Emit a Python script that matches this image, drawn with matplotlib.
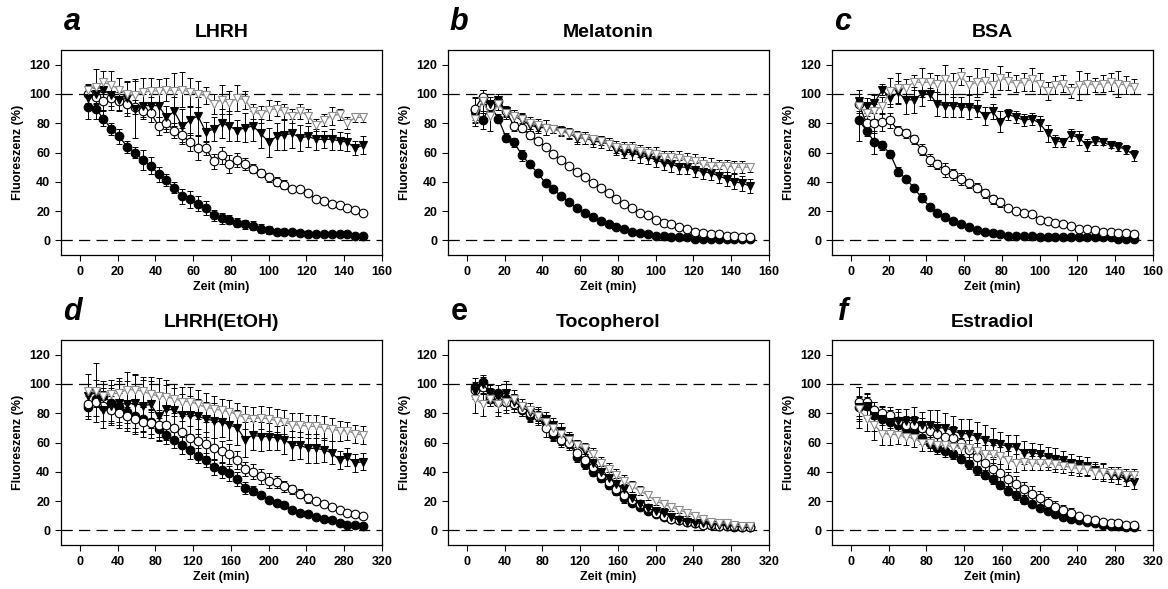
import matplotlib
matplotlib.use('Agg')
import matplotlib.pyplot as plt

plt.rcParams['font.family'] = ['Liberation Sans', 'DejaVu Sans']
plt.rcParams['font.weight'] = 'bold'

# time points (min)
T150 = [4.2, 8.3, 12.5, 16.7, 20.8, 25.0, 29.2, 33.3, 37.5, 41.7, 45.8, 50.0,
        54.2, 58.3, 62.5, 66.7, 70.8, 75.0, 79.2, 83.3, 87.5, 91.7, 95.8, 100.0,
        104.2, 108.3, 112.5, 116.7, 120.8, 125.0, 129.2, 133.3, 137.5, 141.7, 145.8, 150.0]
T300 = [8.3, 16.7, 25.0, 33.3, 41.7, 50.0, 58.3, 66.7, 75.0, 83.3, 91.7, 100.0,
        108.3, 116.7, 125.0, 133.3, 141.7, 150.0, 158.3, 166.7, 175.0, 183.3, 191.7, 200.0,
        208.3, 216.7, 225.0, 233.3, 241.7, 250.0, 258.3, 266.7, 275.0, 283.3, 291.7, 300.0]

# series order: filled circle, open circle, filled triangle, open triangle
LHRH = [
    [91, 90, 83, 76, 71, 64, 60, 55, 51, 45, 41, 36, 30, 28, 25, 22, 17, 15, 14, 12, 11, 10, 8, 7, 6, 6, 6, 5, 4, 4, 4, 4, 4, 4, 3, 3],
    [100, 98, 95, 97, 95, 93, 91, 88, 87, 78, 80, 75, 72, 67, 63, 63, 54, 58, 52, 55, 52, 49, 46, 43, 40, 38, 35, 35, 32, 28, 27, 25, 24, 22, 21, 19],
    [97, 100, 103, 99, 96, 97, 90, 92, 92, 92, 84, 88, 78, 82, 85, 74, 76, 80, 78, 75, 77, 78, 73, 67, 71, 72, 73, 70, 71, 69, 69, 69, 68, 67, 63, 65],
    [103, 105, 108, 106, 103, 100, 99, 101, 102, 102, 103, 102, 103, 101, 100, 99, 93, 96, 94, 97, 96, 88, 86, 89, 90, 88, 85, 88, 85, 79, 82, 85, 86, 80, 84, 84],
]
LHRH_ERR = [
    [8, 7, 5, 4, 5, 4, 4, 7, 6, 5, 4, 4, 5, 6, 5, 5, 4, 4, 3, 3, 3, 3, 3, 3, 2, 2, 2, 2, 1, 1, 1, 1, 1, 1, 1, 1],
    [6, 6, 6, 5, 6, 6, 5, 5, 6, 6, 6, 5, 5, 6, 8, 5, 5, 6, 6, 5, 4, 3, 3, 3, 3, 3, 2, 2, 2, 2, 2, 2, 2, 2, 2, 2],
    [5, 6, 8, 10, 8, 12, 20, 8, 6, 8, 8, 10, 12, 10, 13, 7, 8, 10, 10, 7, 10, 10, 10, 10, 9, 10, 10, 9, 7, 7, 6, 7, 6, 6, 5, 6],
    [4, 12, 8, 10, 8, 8, 10, 10, 9, 8, 8, 12, 12, 10, 9, 6, 7, 10, 8, 9, 6, 5, 6, 7, 5, 5, 5, 5, 5, 4, 4, 6, 4, 4, 3, 3],
]

MELATONIN = [
    [89, 82, 92, 83, 70, 67, 58, 52, 46, 39, 35, 30, 26, 22, 19, 16, 13, 11, 9, 8, 6, 5, 4, 3, 3, 2, 2, 2, 1, 1, 1, 1, 1, 1, 1, 1],
    [90, 98, 92, 95, 88, 78, 77, 72, 68, 64, 59, 55, 51, 47, 43, 39, 36, 32, 28, 25, 22, 19, 17, 14, 12, 11, 9, 8, 6, 5, 4, 4, 3, 3, 2, 2],
    [84, 95, 93, 96, 88, 85, 82, 79, 77, 77, 76, 75, 73, 70, 70, 68, 67, 66, 62, 60, 60, 58, 57, 55, 53, 52, 50, 50, 48, 47, 46, 44, 42, 40, 39, 37],
    [83, 95, 85, 93, 87, 85, 83, 80, 79, 77, 76, 74, 73, 71, 70, 69, 68, 66, 64, 63, 63, 61, 60, 59, 57, 57, 56, 55, 54, 52, 51, 51, 51, 50, 50, 50],
]
MELATONIN_ERR = [
    [8, 6, 4, 3, 3, 3, 4, 2, 2, 2, 2, 2, 2, 2, 2, 1, 1, 1, 1, 1, 1, 1, 1, 1, 1, 1, 1, 1, 1, 1, 1, 1, 1, 1, 1, 1],
    [8, 5, 4, 3, 3, 3, 3, 3, 2, 2, 2, 2, 2, 2, 2, 2, 1, 1, 1, 1, 1, 1, 1, 1, 1, 1, 1, 1, 1, 1, 1, 1, 1, 1, 1, 1],
    [4, 8, 5, 4, 4, 4, 4, 4, 4, 5, 3, 3, 4, 4, 4, 4, 4, 4, 4, 4, 5, 5, 5, 5, 5, 5, 5, 5, 5, 5, 5, 5, 5, 5, 5, 5],
    [5, 8, 10, 4, 4, 4, 4, 4, 4, 5, 3, 3, 3, 4, 4, 3, 3, 4, 4, 4, 4, 4, 4, 5, 4, 4, 5, 5, 5, 5, 5, 4, 4, 4, 4, 3],
]

BSA = [
    [82, 75, 67, 65, 59, 47, 42, 36, 29, 23, 19, 16, 13, 11, 9, 7, 6, 5, 4, 3, 3, 3, 3, 2, 2, 2, 2, 2, 2, 2, 2, 2, 2, 1, 1, 1],
    [93, 80, 80, 81, 82, 75, 73, 69, 62, 55, 52, 48, 45, 42, 39, 36, 32, 28, 26, 22, 20, 19, 18, 14, 13, 12, 11, 10, 8, 8, 7, 6, 6, 5, 5, 4],
    [95, 92, 94, 103, 97, 101, 96, 96, 100, 100, 93, 92, 92, 91, 91, 90, 85, 88, 81, 86, 84, 82, 83, 80, 73, 68, 67, 72, 70, 65, 68, 67, 65, 64, 62, 58],
    [92, 87, 88, 92, 102, 104, 104, 108, 108, 108, 107, 110, 106, 112, 106, 108, 109, 106, 111, 109, 107, 108, 110, 107, 102, 106, 107, 102, 106, 107, 106, 107, 108, 107, 106, 105],
]
BSA_ERR = [
    [14, 4, 8, 3, 3, 3, 2, 2, 3, 2, 2, 2, 1, 1, 1, 1, 1, 1, 1, 1, 1, 1, 1, 1, 1, 1, 1, 1, 1, 1, 1, 1, 1, 1, 1, 1],
    [5, 5, 7, 6, 5, 3, 3, 3, 4, 4, 3, 5, 4, 4, 3, 3, 3, 3, 3, 2, 2, 2, 2, 2, 2, 2, 2, 1, 1, 1, 1, 1, 1, 1, 1, 1],
    [8, 5, 5, 4, 6, 8, 10, 9, 8, 4, 8, 8, 8, 7, 8, 6, 6, 5, 7, 4, 4, 4, 4, 5, 6, 4, 3, 4, 5, 4, 3, 2, 2, 3, 3, 4],
    [8, 6, 5, 6, 9, 10, 6, 5, 10, 6, 6, 10, 8, 6, 6, 10, 8, 8, 8, 6, 6, 6, 8, 7, 6, 6, 6, 5, 10, 7, 5, 6, 6, 9, 6, 5],
]

LHRH_ETOH = [
    [84, 90, 92, 87, 84, 81, 78, 76, 74, 69, 65, 62, 58, 55, 51, 48, 43, 41, 39, 35, 29, 27, 24, 21, 19, 17, 14, 12, 11, 9, 8, 7, 5, 4, 4, 3],
    [86, 88, 85, 82, 80, 78, 76, 74, 73, 72, 72, 70, 67, 63, 61, 59, 56, 54, 52, 48, 42, 40, 37, 34, 33, 30, 28, 25, 22, 20, 18, 16, 14, 12, 11, 10],
    [92, 94, 82, 85, 87, 86, 87, 85, 86, 78, 83, 82, 79, 79, 78, 76, 75, 74, 72, 70, 62, 65, 64, 64, 63, 62, 58, 58, 56, 56, 55, 53, 48, 50, 46, 47],
    [95, 95, 92, 93, 94, 96, 96, 95, 93, 92, 91, 90, 88, 88, 86, 84, 83, 82, 81, 79, 77, 76, 77, 76, 75, 74, 72, 72, 71, 71, 70, 69, 68, 68, 66, 65],
]
LHRH_ETOH_ERR = [
    [8, 6, 5, 12, 10, 8, 8, 8, 8, 8, 6, 6, 6, 6, 5, 5, 5, 5, 5, 5, 4, 3, 2, 2, 2, 2, 2, 2, 1, 1, 1, 1, 1, 1, 1, 1],
    [8, 10, 10, 10, 10, 10, 10, 10, 10, 10, 10, 8, 8, 8, 8, 8, 7, 7, 7, 6, 5, 5, 5, 5, 4, 4, 3, 3, 3, 2, 2, 2, 2, 2, 2, 2],
    [8, 20, 12, 12, 15, 16, 20, 18, 16, 14, 16, 15, 14, 13, 12, 12, 12, 10, 10, 12, 12, 10, 10, 9, 8, 10, 10, 9, 10, 10, 8, 8, 6, 6, 6, 6],
    [12, 8, 10, 10, 10, 12, 10, 10, 12, 12, 12, 10, 10, 10, 10, 10, 9, 8, 8, 8, 8, 8, 8, 8, 8, 8, 8, 8, 8, 8, 8, 8, 7, 6, 6, 6],
]

TOCOPHEROL = [
    [98, 101, 90, 94, 90, 88, 82, 78, 79, 74, 65, 62, 60, 50, 45, 40, 36, 31, 27, 22, 19, 16, 13, 11, 9, 8, 7, 6, 5, 4, 4, 3, 3, 2, 2, 2],
    [96, 98, 92, 88, 88, 86, 83, 80, 78, 70, 67, 62, 60, 53, 48, 43, 38, 33, 28, 24, 21, 18, 15, 12, 10, 8, 7, 6, 5, 4, 4, 3, 3, 3, 2, 2],
    [95, 100, 94, 92, 94, 88, 84, 81, 78, 76, 72, 68, 63, 58, 54, 46, 40, 36, 32, 28, 22, 18, 15, 13, 12, 9, 7, 6, 5, 5, 4, 4, 3, 3, 2, 2],
    [90, 86, 90, 86, 88, 90, 85, 82, 78, 74, 70, 66, 62, 58, 56, 52, 46, 42, 38, 34, 30, 27, 24, 20, 18, 16, 14, 12, 10, 8, 6, 5, 5, 4, 3, 3],
]
TOCOPHEROL_ERR = [
    [6, 5, 5, 5, 5, 5, 4, 4, 4, 4, 4, 4, 4, 3, 3, 3, 3, 3, 3, 3, 2, 2, 2, 2, 2, 1, 1, 1, 1, 1, 1, 1, 1, 1, 1, 1],
    [5, 5, 5, 7, 6, 5, 5, 5, 6, 6, 5, 5, 5, 4, 4, 4, 4, 4, 4, 3, 3, 3, 3, 2, 2, 2, 2, 2, 2, 2, 2, 2, 2, 2, 2, 2],
    [5, 5, 5, 4, 8, 5, 4, 4, 5, 5, 5, 5, 4, 4, 4, 4, 4, 4, 4, 4, 3, 3, 3, 3, 3, 3, 2, 2, 2, 2, 2, 2, 2, 2, 2, 2],
    [10, 8, 5, 8, 8, 6, 5, 5, 5, 5, 4, 4, 4, 4, 4, 4, 4, 4, 4, 4, 4, 3, 3, 3, 3, 3, 2, 2, 2, 2, 2, 2, 2, 2, 2, 2],
]

ESTRADIOL = [
    [84, 85, 79, 76, 74, 72, 68, 67, 63, 60, 56, 54, 52, 49, 45, 41, 38, 35, 31, 27, 24, 21, 18, 15, 13, 11, 9, 8, 7, 6, 5, 4, 3, 3, 2, 2],
    [88, 88, 82, 80, 79, 75, 72, 72, 70, 68, 66, 64, 63, 60, 55, 50, 46, 42, 39, 35, 32, 28, 25, 22, 19, 16, 14, 12, 10, 8, 7, 6, 5, 5, 4, 4],
    [84, 85, 78, 76, 74, 75, 75, 75, 72, 72, 70, 70, 68, 66, 66, 64, 62, 60, 59, 57, 57, 53, 53, 52, 50, 49, 48, 46, 45, 44, 41, 40, 38, 37, 35, 33],
    [83, 76, 72, 66, 66, 65, 64, 63, 60, 60, 58, 58, 57, 57, 56, 54, 52, 52, 51, 48, 46, 47, 46, 46, 46, 45, 44, 43, 42, 42, 40, 40, 39, 39, 38, 38],
]
ESTRADIOL_ERR = [
    [8, 6, 5, 4, 4, 4, 4, 4, 4, 4, 4, 4, 3, 3, 3, 3, 3, 3, 3, 3, 3, 3, 2, 2, 2, 2, 2, 2, 1, 1, 1, 1, 1, 1, 1, 1],
    [10, 6, 6, 5, 5, 6, 6, 6, 7, 7, 8, 8, 8, 8, 7, 7, 7, 7, 6, 5, 5, 5, 5, 5, 4, 4, 3, 3, 2, 2, 2, 2, 2, 2, 2, 2],
    [14, 8, 10, 8, 8, 8, 8, 9, 9, 10, 12, 10, 10, 10, 10, 10, 10, 10, 8, 8, 8, 8, 7, 7, 7, 7, 6, 6, 6, 6, 6, 6, 5, 5, 5, 5],
    [8, 8, 10, 8, 8, 6, 6, 6, 6, 6, 6, 6, 6, 6, 6, 6, 6, 6, 6, 6, 6, 6, 5, 5, 5, 5, 5, 5, 5, 5, 5, 5, 4, 4, 4, 4],
]

PANELS = [
    ('a', 'LHRH', T150, LHRH, LHRH_ERR),
    ('b', 'Melatonin', T150, MELATONIN, MELATONIN_ERR),
    ('c', 'BSA', T150, BSA, BSA_ERR),
    ('d', 'LHRH(EtOH)', T300, LHRH_ETOH, LHRH_ETOH_ERR),
    ('e', 'Tocopherol', T300, TOCOPHEROL, TOCOPHEROL_ERR),
    ('f', 'Estradiol', T300, ESTRADIOL, ESTRADIOL_ERR),
]

# marker, face, edge/line colour
STYLES = [
    ('o', 'black', 'black'),
    ('o', 'white', 'black'),
    ('v', 'black', 'black'),
    ('v', 'white', '#8c8c8c'),
]

W, H = 1168, 589
fig = plt.figure(figsize=(W / 100, H / 100), dpi=100)

lefts = [61, 448, 832]
tops = [50, 340]
aw, ah = 321, 205

for i, (letter, title, t, means, errs) in enumerate(PANELS):
    row, col = divmod(i, 3)
    x0 = lefts[col]
    y0 = tops[row]
    ax = fig.add_axes([x0 / W, 1 - (y0 + ah) / H, aw / W, ah / H])

    ax.axhline(100, color='black', lw=0.9, dashes=(9, 5), zorder=1)
    ax.axhline(0, color='black', lw=0.9, dashes=(9, 5), zorder=1)

    for (mk, fc, ec), m, e in zip(STYLES, means, errs):
        ax.errorbar(t, m, yerr=e, fmt='none', ecolor='black', elinewidth=0.7,
                    capsize=2.5, capthick=0.7, zorder=2)
        ax.plot(t, m, color=ec, lw=0.9, marker=mk, markersize=6.2,
                markerfacecolor=fc, markeredgecolor=ec, markeredgewidth=0.8,
                zorder=3)

    ax.set_ylim(-10, 130)
    ax.set_yticks(range(0, 121, 20))
    if row == 0:
        ax.set_xlim(-10, 160)
        ax.set_xticks(range(0, 161, 20))
    else:
        ax.set_xlim(-20, 320)
        ax.set_xticks(range(0, 321, 40))

    ax.tick_params(direction='out', length=4.3, width=0.8, labelsize=9, pad=3.5)
    for lab in ax.get_xticklabels() + ax.get_yticklabels():
        lab.set_fontweight('bold')
    for s in ax.spines.values():
        s.set_linewidth(0.9)

    ax.set_xlabel('Zeit (min)', fontsize=9, fontweight='bold', labelpad=2)
    ax.set_ylabel('Fluoreszenz (%)', fontsize=9, fontweight='bold', labelpad=4)
    ax.set_title(title, fontsize=14, fontweight='bold', pad=9.5)

    fig.text((x0 + 11) / W, 1 - (y0 - 20) / H, letter, fontsize=22,
             fontweight='bold', style='normal' if letter == 'e' else 'italic',
             ha='center', va='baseline')

fig.savefig('out.png', dpi=100)
